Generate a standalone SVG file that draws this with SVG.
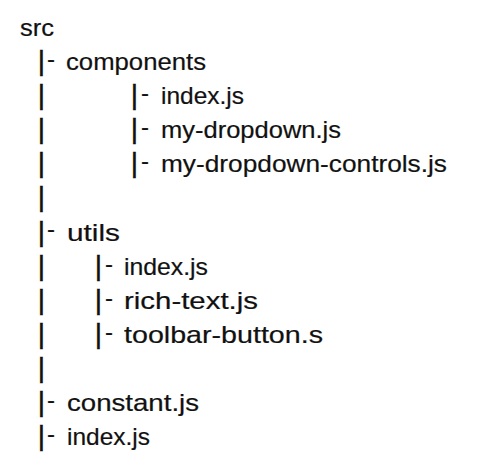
<svg xmlns="http://www.w3.org/2000/svg" width="481" height="476" viewBox="0 0 481 476">
  <style>
    .t { font-family: "Liberation Sans", Arial, sans-serif; font-size: 24px; fill: #111; stroke: #111; stroke-width: 0.2px; }
    .bar { font-family: "Liberation Sans", Arial, sans-serif; font-size: 28px; fill: #111; stroke: #111; stroke-width: 0.5px; text-anchor: middle; }
    .dash { font-family: "Liberation Sans", Arial, sans-serif; font-size: 24px; fill: #111; stroke: #111; stroke-width: 0.2px; text-anchor: middle; }
  </style>
  <rect width="481" height="476" fill="#ffffff"/>

  <!-- tree rails and branch ticks -->
  <g id="connectors">
    <!-- main rail under src -->
    <text class="bar" x="41.5" y="70.1">|</text>
    <text class="dash" x="51" y="67">-</text>
    <text class="bar" x="41.5" y="104.2">|</text>
    <text class="bar" x="41.5" y="138.2">|</text>
    <text class="bar" x="41.5" y="172.3">|</text>
    <text class="bar" x="41.5" y="206.4">|</text>
    <text class="bar" x="41.5" y="240.5">|</text>
    <text class="dash" x="51" y="237.4">-</text>
    <text class="bar" x="41.5" y="274.6">|</text>
    <text class="bar" x="41.5" y="308.6">|</text>
    <text class="bar" x="41.5" y="342.7">|</text>
    <text class="bar" x="41.5" y="376.8">|</text>
    <text class="bar" x="41.5" y="410.9">|</text>
    <text class="dash" x="51" y="407.8">-</text>
    <text class="bar" x="41.5" y="445">|</text>
    <text class="dash" x="51" y="441.9">-</text>

    <!-- components rail -->
    <text class="bar" x="134.5" y="104.2">|</text>
    <text class="dash" x="145" y="101.1">-</text>
    <text class="bar" x="134.5" y="138.2">|</text>
    <text class="dash" x="145" y="135.1">-</text>
    <text class="bar" x="134.5" y="172.3">|</text>
    <text class="dash" x="145" y="169.2">-</text>

    <!-- utils rail -->
    <text class="bar" x="98.5" y="274.6">|</text>
    <text class="dash" x="109" y="271.5">-</text>
    <text class="bar" x="98.5" y="308.6">|</text>
    <text class="dash" x="109" y="305.5">-</text>
    <text class="bar" x="98.5" y="342.7">|</text>
    <text class="dash" x="109" y="339.6">-</text>
  </g>

  <g id="src"><text class="t" x="20" y="36" textLength="34" lengthAdjust="spacingAndGlyphs">src</text></g>

  <g id="components"><text class="t" x="66" y="70.1" textLength="140" lengthAdjust="spacingAndGlyphs">components</text></g>
  <g id="components-index"><text class="t" x="161" y="104.2" textLength="83" lengthAdjust="spacingAndGlyphs">index.js</text></g>
  <g id="my-dropdown"><text class="t" x="161" y="138.2" textLength="180" lengthAdjust="spacingAndGlyphs">my-dropdown.js</text></g>
  <g id="my-dropdown-controls"><text class="t" x="161" y="172.3" textLength="286" lengthAdjust="spacingAndGlyphs">my-dropdown-controls.js</text></g>

  <g id="utils"><text class="t" x="67" y="240.5" textLength="53" lengthAdjust="spacingAndGlyphs">utils</text></g>
  <g id="utils-index"><text class="t" x="124" y="274.6" textLength="84" lengthAdjust="spacingAndGlyphs">index.js</text></g>
  <g id="rich-text"><text class="t" x="124" y="308.6" textLength="134" lengthAdjust="spacingAndGlyphs">rich-text.js</text></g>
  <g id="toolbar-button"><text class="t" x="124" y="342.7" textLength="199" lengthAdjust="spacingAndGlyphs">toolbar-button.s</text></g>

  <g id="constant"><text class="t" x="67" y="410.9" textLength="132" lengthAdjust="spacingAndGlyphs">constant.js</text></g>
  <g id="src-index"><text class="t" x="67" y="445" textLength="83" lengthAdjust="spacingAndGlyphs">index.js</text></g>
</svg>
